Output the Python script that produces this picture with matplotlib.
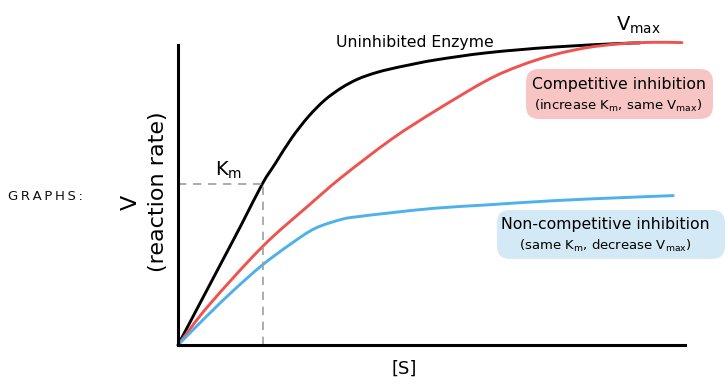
import numpy as np
import matplotlib
matplotlib.use("Agg")
import matplotlib.pyplot as plt
from matplotlib.patches import FancyBboxPatch, PathPatch
from matplotlib.path import Path

plt.rcParams['font.family'] = ['DejaVu Sans']
plt.rcParams['mathtext.default'] = 'regular'

# substrate concentration [S] (relative units) and reaction rates
s_uninhibited = [0, 0.079, 0.124, 0.165, 0.19, 0.222, 0.255, 0.287, 0.32, 0.352,
                 0.385, 0.417, 0.45, 0.502, 0.603, 0.732, 0.863, 0.902]
v_uninhibited = [0, 0.256, 0.402, 0.538, 0.605, 0.69, 0.762, 0.817, 0.858, 0.887,
                 0.907, 0.921, 0.933, 0.95, 0.974, 0.993, 1.005, 1.007]
s_competitive = [0, 0.059, 0.165, 0.255, 0.32, 0.417, 0.502, 0.603, 0.668,
                 0.733, 0.798, 0.863, 0.928, 0.984]
v_competitive = [0, 0.13, 0.328, 0.465, 0.56, 0.686, 0.78, 0.882, 0.931,
                 0.967, 0.991, 1.004, 1.009, 1.008]
s_noncomp = [0, 0.059, 0.111, 0.165, 0.222, 0.268, 0.32, 0.352, 0.417, 0.502,
             0.603, 0.733, 0.863, 0.967]
v_noncomp = [0, 0.101, 0.186, 0.267, 0.339, 0.389, 0.419, 0.428, 0.441, 0.456,
             0.467, 0.481, 0.491, 0.498]
km_s = 0.165
km_v = 0.538


def smooth_path(xs, ys):
    # Catmull-Rom through the read points, drawn as cubic Bezier segments
    p = np.column_stack([xs, ys]).astype(float)
    ext = np.vstack([2 * p[0] - p[1], p, 2 * p[-1] - p[-2]])
    verts = [p[0]]
    codes = [Path.MOVETO]
    for i in range(1, len(ext) - 2):
        c1 = ext[i] + (ext[i + 1] - ext[i - 1]) / 6
        c2 = ext[i + 1] - (ext[i + 2] - ext[i]) / 6
        verts += [c1, c2, ext[i + 1]]
        codes += [Path.CURVE4] * 3
    return Path(verts, codes)


W, H = 728, 388
fig = plt.figure(figsize=(W / 100, H / 100), dpi=100)
ax = fig.add_axes([178 / W, (H - 345) / H, 507 / W, 300 / H])
ax.set_xlim(0, 0.99)
ax.set_ylim(0, 1)

for xs, ys, col in [(s_uninhibited, v_uninhibited, 'black'),
                    (s_competitive, v_competitive, '#ef5350'),
                    (s_noncomp, v_noncomp, '#4fb0ec')]:
    ax.add_patch(PathPatch(smooth_path(xs, ys), facecolor='none', edgecolor=col,
                           lw=2.1, capstyle='round', joinstyle='round', clip_on=False))

# Km guide lines
ax.plot([0, km_s], [km_v, km_v], color='#9e9e9e', lw=1.2, ls=(0, (5, 4)))
ax.plot([km_s, km_s], [0, km_v], color='#9e9e9e', lw=1.2, ls=(0, (5, 4)))

for side in ['top', 'right']:
    ax.spines[side].set_visible(False)
for side in ['left', 'bottom']:
    ax.spines[side].set_linewidth(2.2)
    ax.spines[side].set_capstyle('projecting')
ax.set_xticks([])
ax.set_yticks([])
ax.patch.set_visible(False)

def fx(px):
    return px / W

def fy(py):
    return (H - py) / H

fig.text(fx(215), fy(176), 'K$_m$', fontsize=14, ha='left', va='baseline')
fig.text(fx(616), fy(31), 'V$_{max}$', fontsize=14, ha='left', va='baseline')
fig.text(fx(415), fy(43), 'Uninhibited Enzyme', fontsize=11.3, ha='center', va='center')
fig.text(fx(45), fy(196), 'G\u2009R\u2009A\u2009P\u2009H\u2009S\u2009:', fontsize=9.5,
         ha='center', va='center', color='#111111')
fig.text(fx(131), fy(202), 'V', fontsize=16, ha='center', va='center', rotation=90)
fig.text(fx(158), fy(192), '(reaction rate)', fontsize=16, ha='center', va='center',
         rotation=90)
fig.text(fx(404), fy(369), '[S]', fontsize=13, ha='center', va='center')

# label boxes (positions in inches)
red_box = FancyBboxPatch((5.26, (H - 119) / 100), 1.87, 0.50,
                         boxstyle='round,pad=0,rounding_size=0.13',
                         transform=fig.dpi_scale_trans, facecolor='#f8c5c5',
                         edgecolor='none')
blue_box = FancyBboxPatch((4.97, (H - 259) / 100), 2.28, 0.49,
                          boxstyle='round,pad=0,rounding_size=0.13',
                          transform=fig.dpi_scale_trans, facecolor='#d3eaf6',
                          edgecolor='none')
fig.patches.append(red_box)
fig.patches.append(blue_box)

fig.text(fx(619), fy(85), 'Competitive inhibition', fontsize=11.3, ha='center', va='center')
fig.text(fx(618), fy(106), '(increase K$_m$, same V$_{max}$)', fontsize=9.5,
         ha='center', va='center')
fig.text(fx(605), fy(225), 'Non-competitive inhibition', fontsize=11.3, ha='center',
         va='center')
fig.text(fx(605), fy(246), '(same K$_m$, decrease V$_{max}$)', fontsize=9.5,
         ha='center', va='center')

fig.savefig('out.png', dpi=100)
